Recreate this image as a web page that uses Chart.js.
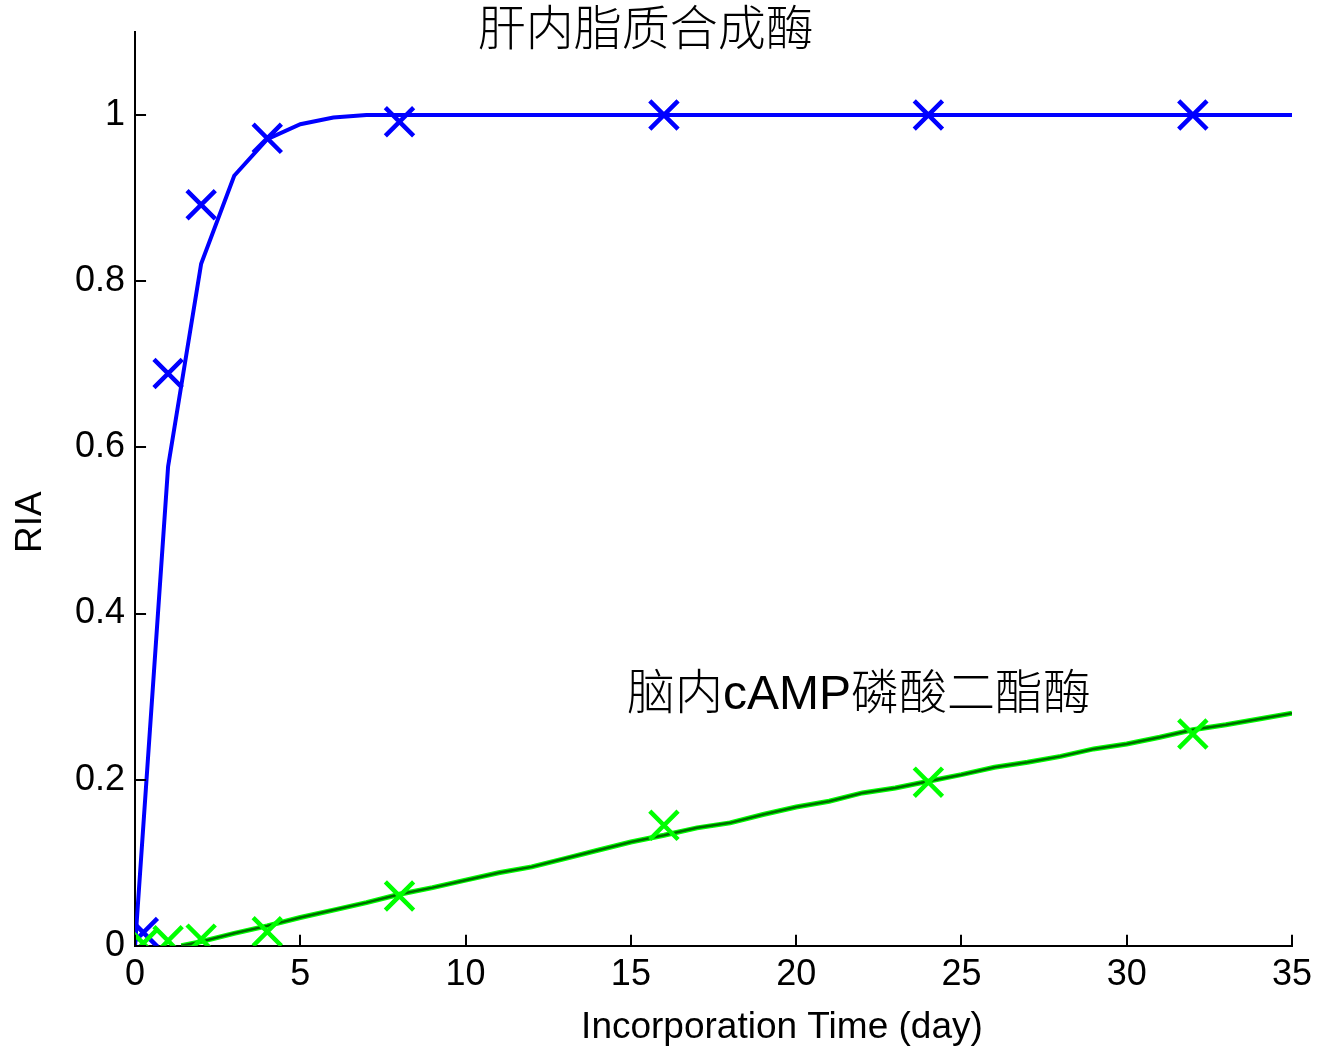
<!DOCTYPE html>
<html>
<head>
<meta charset="utf-8">
<title>RIA</title>
<script src="https://cdn.jsdelivr.net/npm/chart.js@4.4.1/dist/chart.umd.min.js"></script>
<style>
    html, body { margin: 0; padding: 0; background: #fff; }
    #wrap { width: 1322px; height: 1050px; }
</style>
</head>
<body>
<div id="wrap"><canvas id="ria-chart" width="1322" height="1050"></canvas></div>
<script>
// Data
const liverDays = [0.25, 1, 2, 4, 8, 16, 24, 32];
const liverRIA = [0.016, 0.689, 0.892, 0.972, 0.992, 1.0, 1.0, 1.0];

const liverFitDays = [0, 1, 2, 3, 4, 5, 6, 7, 8, 35];
const liverFitRIA = [0, 0.577, 0.821, 0.927, 0.971, 0.989, 0.997, 1.0, 1.0, 1.0];

const brainDays = [0.25, 1, 2, 4, 8, 16, 24, 32];
const brainRIA = [0.003, 0.006, 0.008, 0.017, 0.060, 0.145, 0.197, 0.255];

const brainFitDays = [1.4, 2, 3, 4, 5, 6, 7, 8, 9, 10, 11, 12, 13, 14, 15, 16, 17, 18,
    19, 20, 21, 22, 23, 24, 25, 26, 27, 28, 29, 30, 31, 32, 33, 34, 35];
const brainFitRIA = [0, 0.005, 0.015, 0.024, 0.034, 0.043, 0.052, 0.062, 0.070, 0.079,
    0.088, 0.095, 0.105, 0.115, 0.125, 0.133, 0.142, 0.148, 0.158, 0.167, 0.174, 0.184,
    0.190, 0.198, 0.206, 0.215, 0.221, 0.228, 0.237, 0.243, 0.251, 0.260, 0.266, 0.273, 0.280];

const xTicks = [0, 5, 10, 15, 20, 25, 30, 35];
const yTicks = [0, 0.2, 0.4, 0.6, 0.8, 1];

const xTitle = 'Incorporation Time (day)';
const yTitle = 'RIA';
const curveLabels = ['肝内脂质合成酶', '脑内cAMP磷酸二酯酶'];
const labelAt = [[10.37, 1.1], [14.88, 0.301]];

function toPoints(xs, ys) {
    return xs.map((x, i) => ({ x: x, y: ys[i] }));
}

// Inward ticks, axis titles and the two curve labels
const overlayPlugin = {
    id: 'overlay',
    afterDraw(chart) {
        const ctx = chart.ctx;
        const xs = chart.scales.x;
        const ys = chart.scales.y;
        ctx.save();
        ctx.strokeStyle = '#000';
        ctx.lineWidth = 2;
        ctx.beginPath();
        xTicks.forEach(v => {
            const px = Math.round(xs.getPixelForValue(v));
            ctx.moveTo(px, ys.bottom);
            ctx.lineTo(px, ys.bottom - 11);
        });
        yTicks.forEach(v => {
            const py = Math.round(ys.getPixelForValue(v));
            ctx.moveTo(xs.left, py);
            ctx.lineTo(xs.left + 11, py);
        });
        ctx.stroke();

        ctx.fillStyle = '#000';
        ctx.textBaseline = 'middle';

        // axis titles
        ctx.font = '37px "Liberation Sans", Arial, sans-serif';
        ctx.textAlign = 'center';
        ctx.fillText(xTitle, xs.getPixelForValue(19.57), ys.bottom + 82);
        ctx.save();
        ctx.translate(31, ys.getPixelForValue(0.51));
        ctx.rotate(-Math.PI / 2);
        ctx.fillText(yTitle, 0, 0);
        ctx.restore();

        ctx.textAlign = 'left';
        ctx.font = '300 48px "Liberation Sans", "Noto Sans CJK SC", sans-serif';
        curveLabels.forEach((txt, i) => {
            ctx.fillText(txt, xs.getPixelForValue(labelAt[i][0]), ys.getPixelForValue(labelAt[i][1]));
        });
        ctx.restore();
    }
};

const tickFont = { family: '"Liberation Sans", Arial, sans-serif', size: 36 };
const crossStyle = { showLine: false, pointStyle: 'crossRot', pointRadius: 20, pointBorderWidth: 4.5 };

const ctx = document.getElementById('ria-chart').getContext('2d');
new Chart(ctx, {
    type: 'line',
    data: {
        datasets: [
            Object.assign({
                data: toPoints(brainDays, brainRIA),
                pointBorderColor: '#00ff00',
                pointBackgroundColor: '#00ff00'
            }, crossStyle),
            Object.assign({
                data: toPoints(liverDays, liverRIA),
                pointBorderColor: '#0000ff',
                pointBackgroundColor: '#0000ff'
            }, crossStyle),
            {
                data: toPoints(liverFitDays, liverFitRIA),
                borderColor: '#0000ff',
                borderWidth: 4,
                pointRadius: 0,
                tension: 0
            },
            {
                data: toPoints(brainFitDays, brainFitRIA),
                borderColor: '#006a00',
                borderWidth: 2.5,
                pointRadius: 0,
                tension: 0
            },
            {
                data: toPoints(brainFitDays, brainFitRIA),
                borderColor: '#00ff00',
                borderWidth: 5,
                pointRadius: 0,
                tension: 0
            }
        ]
    },
    options: {
        responsive: false,
        devicePixelRatio: 1,
        animation: false,
        layout: { padding: { top: 32, right: 30, bottom: 45, left: 65 } },
        plugins: {
            legend: { display: false },
            tooltip: { enabled: false }
        },
        scales: {
            x: {
                type: 'linear',
                min: 0,
                max: 35,
                afterBuildTicks: s => { s.ticks = xTicks.map(v => ({ value: v })); },
                ticks: { font: tickFont, color: '#000', padding: 8, maxRotation: 0 },
                grid: { display: true, drawOnChartArea: false, drawTicks: false },
                border: { display: true, color: '#000', width: 2 }
            },
            y: {
                type: 'linear',
                min: 0,
                max: 1.1,
                afterBuildTicks: s => { s.ticks = yTicks.map(v => ({ value: v })); },
                ticks: {
                    font: tickFont,
                    color: '#000',
                    padding: 10,
                    callback: v => String(+v.toFixed(1))
                },
                grid: { display: true, drawOnChartArea: false, drawTicks: false },
                border: { display: true, color: '#000', width: 2 }
            }
        }
    },
    plugins: [overlayPlugin]
});
</script>
</body>
</html>
